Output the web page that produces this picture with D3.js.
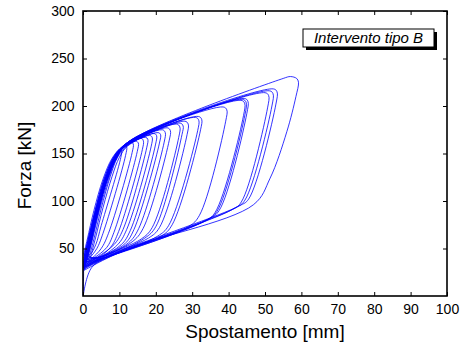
<!DOCTYPE html>
<html>
<head>
<meta charset="utf-8">
<script src="https://cdn.jsdelivr.net/npm/d3@7"></script>
<style>
  body { margin: 0; background: #fff; }
  svg { display: block; font-family: "Liberation Sans", Arial, sans-serif; }
</style>
</head>
<body>
<svg id="chart" width="465" height="345"></svg>
<script>
// ------------------------------------------
//  Data
// ------------------------------------------
const xTicks = [0, 10, 20, 30, 40, 50, 60, 70, 80, 90, 100]
const yTicks = [50, 100, 150, 200, 250, 300]
const xLabel = 'Spostamento [mm]'
const yLabel = 'Forza [kN]'
const legendText = 'Intervento tipo B'

// cicli [spostamento mm, forza kN]
const cicli = [
  [[0, 0.5], [0.15, 18], [0.3, 40], [1.4, 58], [3.3, 88], [5.8, 121], [8.3, 145], [10, 154], [10.6, 153], [10.4, 146], [5, 74], [3.5, 54], [2, 44], [0.3, 42]],
  [[0.3, 42], [1.3, 58], [3.2, 88], [5.6, 121], [8.2, 145], [10.2, 154], [11.5, 159], [12, 157], [11.7, 148], [5.5, 66], [3.8, 50], [2, 41], [0.3, 36]],
  [[0.3, 36], [1.5, 55], [3.5, 88], [6, 121], [8.5, 145], [10.5, 155], [13.2, 162], [13.8, 160], [13.5, 151], [7, 66], [5, 50], [2.5, 40], [1.5, 38]],
  [[1.5, 38], [3, 60], [5, 92], [7.5, 126], [9.5, 146], [11.8, 157], [14.5, 163], [15.2, 161], [14.9, 152], [8.5, 67], [6.5, 51], [3, 40], [0.3, 34]],
  [[0.3, 34], [1.6, 54], [3.6, 87], [6.1, 121], [8.6, 145], [10.8, 155], [16, 166], [16.6, 163], [16.3, 154], [9.8, 68], [7.5, 51], [3.5, 40], [0.2, 44]],
  [[0.2, 44], [1.2, 60], [3, 90], [5.5, 123], [8, 145], [10.5, 156], [17.2, 167], [17.8, 165], [17.5, 156], [11, 70], [8.5, 54], [4, 41], [0.3, 32]],
  [[0.3, 32], [1.6, 53], [3.7, 87], [6.2, 121], [8.7, 145], [11, 156], [18.3, 169], [19, 167], [18.7, 157], [12, 70], [9.5, 54], [4, 40], [2, 40]],
  [[2, 40], [3.5, 62], [5.5, 93], [8, 126], [10, 146], [12.3, 158], [19.5, 171], [20.2, 169], [19.9, 159], [13, 69], [10.5, 54], [4.5, 41], [0.3, 38]],
  [[0.3, 38], [1.5, 57], [3.4, 88], [5.9, 121], [8.5, 145], [11, 157], [20.6, 172], [21.3, 170], [21, 161], [14, 70], [11.5, 55], [5, 41], [0.3, 30]],
  [[0.3, 30], [1.7, 52], [3.8, 86], [6.3, 120], [8.8, 145], [11.2, 157], [21.8, 175], [22.6, 172], [22.3, 162], [15.3, 71], [12.5, 56], [5, 41], [0.3, 36]],
  [[0.3, 36], [1.5, 56], [3.5, 88], [6, 121], [8.6, 145], [11.2, 158], [23.2, 177], [24, 174], [23.7, 164], [16.5, 71], [13.5, 57], [5, 41], [1, 36]],
  [[1, 36], [2.5, 58], [4.5, 90], [7, 123], [9.3, 146], [11.8, 158], [25.7, 181], [26.6, 178], [26.3, 167], [19, 72], [16, 60], [6, 42], [0.3, 28]],
  [[0.3, 28], [1.8, 50], [3.9, 85], [6.4, 120], [8.9, 145], [11.5, 158], [26.7, 182], [27.5, 179], [27.2, 170], [20, 73], [17, 61], [6, 42], [0.3, 40]],
  [[0.3, 40], [1.3, 57], [3.2, 88], [5.7, 122], [8.3, 145], [11, 158], [28, 184], [28.9, 181], [28.6, 170], [21, 72], [18, 61], [6, 42], [0.3, 31]],
  [[0.3, 31], [1.7, 52], [3.8, 86], [6.3, 120], [8.9, 145], [11.7, 159], [30.9, 188], [31.8, 185], [31.5, 174], [23.5, 74], [20.5, 63], [7, 42], [0.3, 34]],
  [[0.3, 34], [1.6, 54], [3.6, 87], [6.1, 121], [8.7, 145], [11.7, 160], [31.7, 189], [32.6, 186], [32.3, 175], [24.5, 75], [21.5, 63], [7, 42], [0.3, 30]],
  [[0.3, 30], [1.7, 52], [3.8, 86], [6.3, 120], [9, 145], [12, 161], [38.5, 199], [39.5, 196], [39.2, 184], [32, 85], [29, 73], [8, 43], [0.3, 33]],
  [[0.3, 33], [1.6, 53], [3.6, 87], [6.1, 121], [8.8, 145], [12, 161], [43.4, 206], [44.4, 203], [44.1, 190], [36.3, 88], [33.5, 79], [9, 44], [0.3, 29]],
  [[0.3, 29], [1.8, 51], [3.9, 85], [6.4, 120], [9.1, 145], [12.2, 161], [43.8, 207], [44.8, 204], [44.5, 191], [36.8, 89], [34, 80], [9, 44], [0.3, 35]],
  [[0.3, 35], [1.5, 55], [3.5, 88], [6, 121], [8.8, 145], [12.3, 161], [44.3, 208], [45.3, 205], [45, 192], [37.4, 90], [34.5, 81], [9, 44], [0.3, 27]],
  [[0.3, 27], [1.9, 50], [4, 85], [6.5, 120], [9.2, 145], [12.5, 162], [50, 214], [51, 211], [50.7, 198], [43.5, 99], [41, 91], [10, 46], [0.3, 32]],
  [[0.3, 32], [1.7, 53], [3.7, 86], [6.2, 120], [9, 145], [12.6, 162], [51.2, 216], [52.2, 213], [51.9, 200], [44.5, 101], [42, 93], [10, 46], [0.3, 30]],
  [[0.3, 30], [1.8, 52], [3.9, 86], [6.4, 120], [9.2, 145], [12.7, 163], [52.3, 218], [53.3, 215], [53, 202], [45.5, 102], [43, 95], [10, 47], [0.3, 31]],
  [[0.3, 31], [1.7, 53], [3.8, 86], [6.3, 120], [9.1, 145], [12.8, 163], [55, 229], [57, 231], [58.7, 229], [59.2, 225], [58.5, 210], [56, 173], [51.4, 124], [46.8, 96], [10, 47], [2.4, 30], [0.1, 1]]
]

// ------------------------------------------
//  Chart
// ------------------------------------------
const svg = d3.select('#chart')
const margin = { top: 11, right: 18, bottom: 49, left: 83 }
const width = +svg.attr('width') - margin.left - margin.right
const height = +svg.attr('height') - margin.top - margin.bottom
const g = svg.append('g').attr('transform', `translate(${margin.left},${margin.top})`)

const x = d3.scaleLinear().domain([0, 100]).range([0, width])
const y = d3.scaleLinear().domain([0, 300]).range([height, 0])

const line = d3.line()
  .x(d => x(d[0]))
  .y(d => y(d[1]))
  .curve(d3.curveCatmullRom.alpha(0.5))

g.selectAll('.ciclo')
  .data(cicli)
  .enter().append('path')
  .attr('class', 'ciclo')
  .attr('d', line)
  .attr('fill', 'none')
  .attr('stroke', '#0000ff')
  .attr('stroke-width', 0.8)

// axes, ticks pointing inward
const styleAxis = sel => {
  sel.select('.domain').remove()
  sel.selectAll('.tick line').attr('stroke', '#000')
  sel.selectAll('.tick text').attr('fill', '#000').style('font-size', '14px')
}

g.append('g')
  .attr('transform', `translate(0,${height})`)
  .call(d3.axisBottom(x).tickValues(xTicks).tickSize(-4).tickPadding(8))
  .call(styleAxis)

g.append('g')
  .call(d3.axisLeft(y).tickValues(yTicks).tickSize(-4).tickPadding(8.5))
  .call(styleAxis)

g.append('g')
  .call(d3.axisTop(x).tickValues(xTicks).tickSize(-4).tickFormat(''))
  .call(styleAxis)

g.append('g')
  .attr('transform', `translate(${width},0)`)
  .call(d3.axisRight(y).tickValues(yTicks).tickSize(-4).tickFormat(''))
  .call(styleAxis)

g.append('rect')
  .attr('width', width)
  .attr('height', height)
  .attr('fill', 'none')
  .attr('stroke', '#000')
  .attr('stroke-width', 1.6)

// axis titles
svg.append('text')
  .attr('x', margin.left + width / 2)
  .attr('y', 338)
  .attr('text-anchor', 'middle')
  .style('font-size', '19px')
  .text(xLabel)

svg.append('text')
  .attr('transform', `translate(31,${margin.top + height / 2 + 12}) rotate(-90)`)
  .attr('text-anchor', 'middle')
  .style('font-size', '19px')
  .text(yLabel)

// legend box with shadow
const legend = svg.append('g').attr('transform', 'translate(303,29)')
legend.append('rect')
  .attr('x', 3).attr('y', 3)
  .attr('width', 131).attr('height', 18)
  .attr('fill', '#000')
legend.append('rect')
  .attr('width', 131).attr('height', 18)
  .attr('fill', '#fff')
  .attr('stroke', '#000')
  .attr('stroke-width', 1)
legend.append('text')
  .attr('x', 65.5)
  .attr('y', 14)
  .attr('text-anchor', 'middle')
  .style('font-size', '15px')
  .style('font-style', 'italic')
  .text(legendText)
</script>
</body>
</html>
